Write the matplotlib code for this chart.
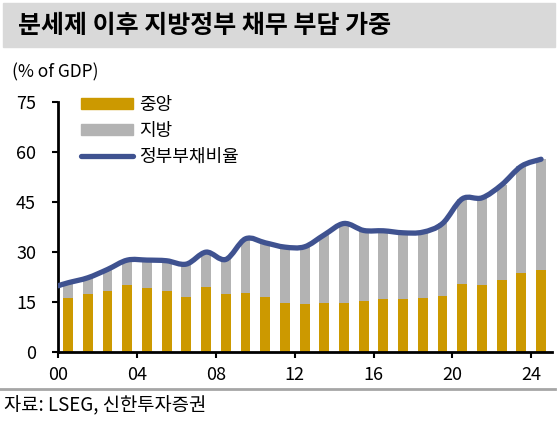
import numpy as np
import matplotlib
matplotlib.use("Agg")
import matplotlib.pyplot as plt
from matplotlib.path import Path
from matplotlib.patches import PathPatch, Rectangle
from matplotlib.lines import Line2D

plt.rcParams['font.family'] = ['Noto Sans CJK KR', 'DejaVu Sans']

# --- Données (% du PIB) ---
years = np.arange(2000, 2025)
central = [16.2, 17.3, 18.4, 20.1, 19.3, 18.3, 16.5, 19.6, 17.3, 17.7, 16.5, 14.8, 14.3,
           14.6, 14.7, 15.3, 15.8, 16.0, 16.2, 16.8, 20.5, 20.2, 21.5, 23.8, 24.6]
local = [4.6, 5.0, 6.4, 7.5, 8.3, 9.1, 9.9, 10.4, 10.5, 16.3, 16.3, 16.7, 17.3,
         20.6, 23.9, 21.2, 20.6, 19.8, 19.8, 21.8, 25.5, 26.1, 28.7, 32.0, 33.3]
debt_ratio = [20.8, 22.3, 24.8, 27.6, 27.6, 27.4, 26.4, 30.0, 27.8, 34.0, 32.8, 31.5, 31.6,
              35.2, 38.6, 36.5, 36.4, 35.8, 36.0, 38.6, 46.0, 46.3, 50.2, 55.8, 57.9]
debt_start = 19.9  # valeur au bord gauche de l'axe
tick_years = [2000, 2004, 2008, 2012, 2016, 2020, 2024]
tick_labels = ['00', '04', '08', '12', '16', '20', '24']

c_gold = '#CC9900'
c_gray = '#B3B3B3'
c_line = '#3F5290'


def smooth_path(x, y):
    # courbe lissée type Excel (Bezier)
    pts = np.column_stack([x, y])
    verts = [pts[0]]
    codes = [Path.MOVETO]
    n = len(pts)
    for i in range(n - 1):
        p0 = pts[max(i - 1, 0)]
        p1 = pts[i]
        p2 = pts[i + 1]
        p3 = pts[min(i + 2, n - 1)]
        verts += [p1 + (p2 - p0) / 6, p2 - (p3 - p1) / 6, p2]
        codes += [Path.CURVE4] * 3
    return Path(verts, codes)


fig = plt.figure(figsize=(5.58, 4.28), dpi=100)
ax = fig.add_axes([0.1045, 0.1776, 0.8842, 0.5834])

# bandeau du titre
fig.patches.append(Rectangle((3 / 558, 1 - 47 / 428), 552 / 558, 44 / 428,
                             transform=fig.transFigure, color='#D9D9D9', zorder=0))
fig.text(18 / 558, 1 - 26 / 428, '분세제 이후 지방정부 채무 부담 가중', fontsize=18,
         fontweight='bold', va='center', ha='left')

x = years + 0.5
ax.bar(x, central, width=0.5, color=c_gold, zorder=2)
ax.bar(x, local, width=0.5, bottom=central, color=c_gray, zorder=2)

lx = np.r_[years[0], x]
ly = np.r_[debt_start, debt_ratio]
ax.add_patch(PathPatch(smooth_path(lx, ly), facecolor='none', edgecolor=c_line,
                       lw=3.8, capstyle='round', joinstyle='round', zorder=3))

ax.set_xlim(2000, 2025.04)
ax.set_ylim(0, 75)
ax.set_yticks([0, 15, 30, 45, 60, 75])
ax.set_xticks(tick_years)
ax.set_xticklabels(tick_labels)
ax.tick_params(axis='y', direction='out', length=4, width=1.5, labelsize=13, pad=12)
ax.tick_params(axis='x', direction='out', length=4, width=1.5, labelsize=13, pad=6)
for s in ['top', 'right']:
    ax.spines[s].set_visible(False)
for s in ['left', 'bottom']:
    ax.spines[s].set_linewidth(2)

handles = [Rectangle((0, 0), 1, 1, color=c_gold), Rectangle((0, 0), 1, 1, color=c_gray),
           Line2D([], [], color=c_line, lw=3.8, solid_capstyle='round')]
ax.legend(handles, ['중앙', '지방', '정부부채비율'], loc='upper left',
          bbox_to_anchor=(81 / 558, 1 - 96 / 428), bbox_transform=fig.transFigure,
          frameon=False, fontsize=13, handlelength=2.9, handleheight=0.55,
          handletextpad=0.3, labelspacing=0.45, borderpad=0, borderaxespad=0)

fig.text(12 / 558, 1 - 72 / 428, '(% of GDP)', fontsize=12.5, va='center', ha='left')

# ligne grise et source
fig.add_artist(Line2D([0, 555 / 558], [1 - 389 / 428] * 2, transform=fig.transFigure,
                      color='#A6A6A6', lw=2))
fig.text(4 / 558, 1 - 406 / 428, '자료: LSEG, 신한투자증권', fontsize=13.5, va='center', ha='left')

fig.savefig('out.png', dpi=100)
